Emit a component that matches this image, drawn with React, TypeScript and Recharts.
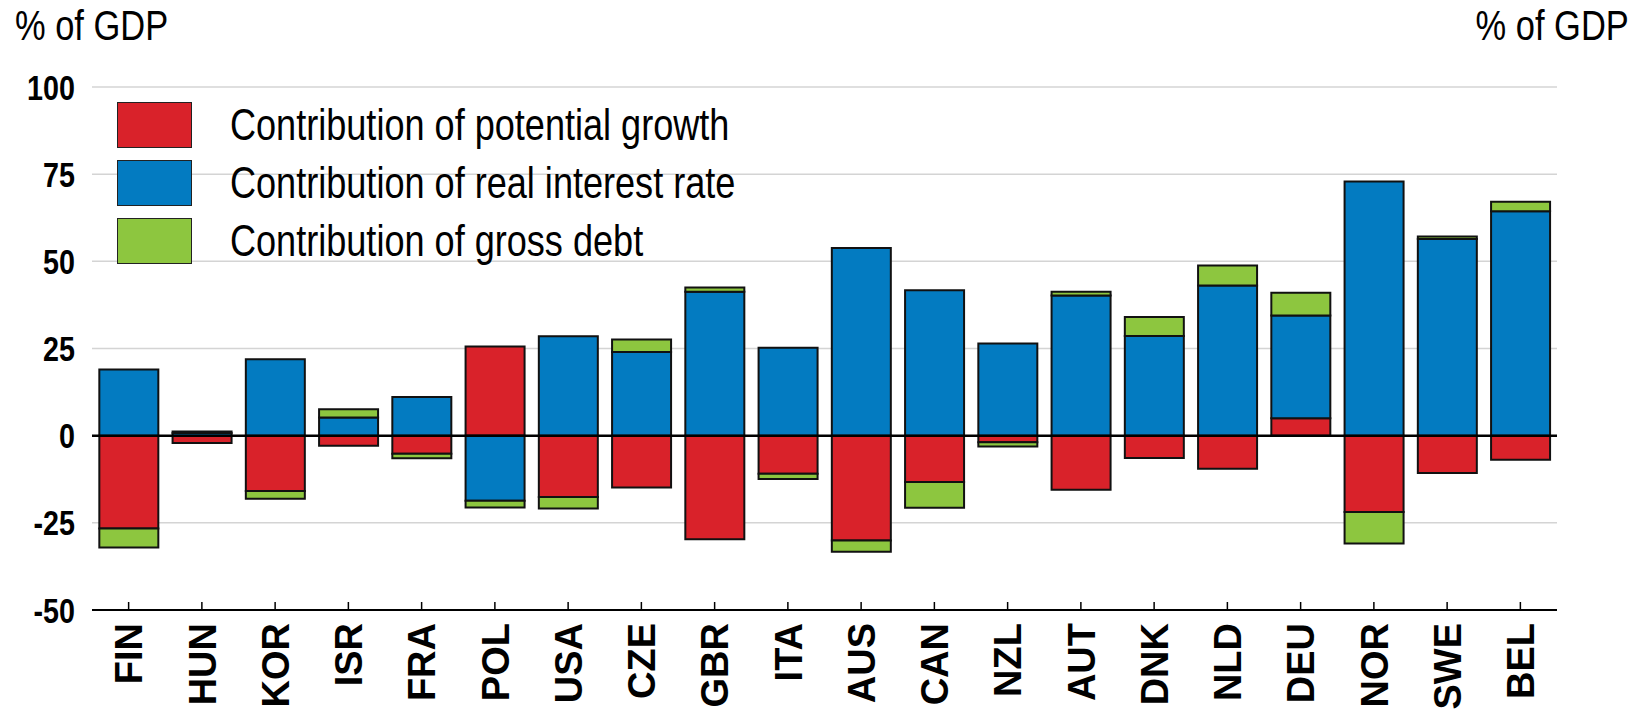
import React from 'react';
import {
  Bar,
  BarChart,
  CartesianGrid,
  ReferenceLine,
  XAxis,
  YAxis,
} from 'recharts';

const countries = ['FIN', 'HUN', 'KOR', 'ISR', 'FRA', 'POL', 'USA', 'CZE', 'GBR', 'ITA', 'AUS', 'CAN', 'NZL', 'AUT', 'DNK', 'NLD', 'DEU', 'NOR', 'SWE', 'BEL'];
const potentialGrowth = [-26.6, -2.1, -15.9, -2.9, -5.2, 25.6, -17.6, -14.9, -29.7, -10.9, -30.1, -13.3, -1.9, -15.5, -6.4, -9.5, 5.0, -21.9, -10.7, -6.9];
const realInterest = [19.0, 0.8, 21.9, 5.2, 11.1, -18.7, 28.5, 24.0, 41.3, 25.2, 53.8, 41.7, 26.4, 40.2, 28.6, 43.1, 29.5, 72.9, 56.4, 64.4];
const grossDebt = [-5.5, 0.4, -2.2, 2.4, -1.3, -1.9, -3.3, 3.6, 1.2, -1.5, -3.2, -7.4, -1.2, 1.1, 5.4, 5.7, 6.5, -9.0, 0.7, 2.7];
const yTicks = [-50, -25, 0, 25, 50, 75, 100];

const RED = '#d9222a';
const BLUE = '#037bc1';
const GREEN = '#8dc63f';
const SANS = "'Liberation Sans', Arial, sans-serif";
const NARROW_SCALE = 0.82;

const legendItems = [
  { label: 'Contribution of potential growth', color: RED },
  { label: 'Contribution of real interest rate', color: BLUE },
  { label: 'Contribution of gross debt', color: GREEN },
];

// the original uses a condensed face, so squeeze Liberation Sans horizontally
const NarrowText: React.FC<{ size: number; children: React.ReactNode; style?: React.CSSProperties; origin?: string }> = ({
  size,
  children,
  style,
  origin = 'left center',
}) => (
  <div
    style={{
      fontFamily: SANS,
      fontSize: size,
      color: '#000',
      whiteSpace: 'nowrap',
      transform: `scaleX(${NARROW_SCALE})`,
      transformOrigin: origin,
      lineHeight: 1.15,
      ...style,
    }}
  >
    {children}
  </div>
);

const CountryTick = (props: any) => {
  const { x, y, payload } = props;
  return (
    <g>
      <line x1={x} y1={y} x2={x} y2={y - 8} stroke="#000" strokeWidth={1.5} />
      <text
        transform={`translate(${x},${y + 13}) rotate(-90)`}
        textAnchor="end"
        dy="0.36em"
        fontFamily={SANS}
        fontWeight="bold"
        fontSize={38}
        fill="#000"
      >
        {payload.value}
      </text>
    </g>
  );
};

const ValueTick = (props: any) => {
  const { x, y, payload, textAnchor } = props;
  return (
    <text
      transform={`translate(${x},${y}) scale(${NARROW_SCALE},1)`}
      textAnchor={textAnchor}
      dy="0.36em"
      fontFamily={SANS}
      fontWeight="bold"
      fontSize={35}
      fill="#000"
    >
      {payload.value}
    </text>
  );
};

const App: React.FC = () => {
  const data = countries.map((c, i) => ({
    name: c,
    growth: potentialGrowth[i],
    rate: realInterest[i],
    debt: grossDebt[i],
  }));

  return (
    <div style={{ position: 'absolute', left: 0, top: 0, width: 1647, height: 712, background: '#fff', overflow: 'hidden' }}>
      <BarChart
        width={1647}
        height={712}
        data={data}
        stackOffset="sign"
        barCategoryGap="10%"
        margin={{ top: 87, right: 0, left: 0, bottom: 0 }}
      >
        <CartesianGrid vertical={false} stroke="#d4d4d4" strokeWidth={1.5} yAxisId="left" />
        <XAxis
          dataKey="name"
          height={102}
          interval={0}
          axisLine={{ stroke: '#000', strokeWidth: 2 }}
          tickLine={false}
          tickSize={0}
          tickMargin={0}
          tick={<CountryTick />}
        />
        <YAxis
          yAxisId="left"
          orientation="left"
          width={92}
          domain={[-50, 100]}
          ticks={yTicks}
          axisLine={false}
          tickLine={false}
          tickSize={0}
          tickMargin={17}
          tick={<ValueTick />}
        />
        <YAxis
          yAxisId="right"
          orientation="right"
          width={90}
          domain={[-50, 100]}
          ticks={yTicks}
          axisLine={false}
          tickLine={false}
          tickSize={0}
          tickMargin={18}
          tick={<ValueTick />}
        />
        <Bar yAxisId="left" dataKey="growth" stackId="a" fill={RED} stroke="#111" strokeWidth={2} isAnimationActive={false} />
        <Bar yAxisId="left" dataKey="rate" stackId="a" fill={BLUE} stroke="#111" strokeWidth={2} isAnimationActive={false} />
        <Bar yAxisId="left" dataKey="debt" stackId="a" fill={GREEN} stroke="#111" strokeWidth={2} isAnimationActive={false} />
        <ReferenceLine yAxisId="left" y={0} stroke="#000" strokeWidth={2.5} />
      </BarChart>

      <NarrowText size={42} style={{ position: 'absolute', left: 15, top: 2 }}>% of GDP</NarrowText>
      <NarrowText size={42} origin="right center" style={{ position: 'absolute', right: 18, top: 2 }}>% of GDP</NarrowText>

      <div style={{ position: 'absolute', left: 117, top: 96 }}>
        {legendItems.map((item) => (
          <div key={item.label} style={{ display: 'flex', alignItems: 'center', height: 58 }}>
            <span
              style={{
                width: 73,
                height: 44,
                background: item.color,
                border: '1.5px solid #222',
                display: 'inline-block',
                marginRight: 38,
                flexShrink: 0,
              }}
            />
            <NarrowText size={44}>{item.label}</NarrowText>
          </div>
        ))}
      </div>
    </div>
  );
};

export default App;
